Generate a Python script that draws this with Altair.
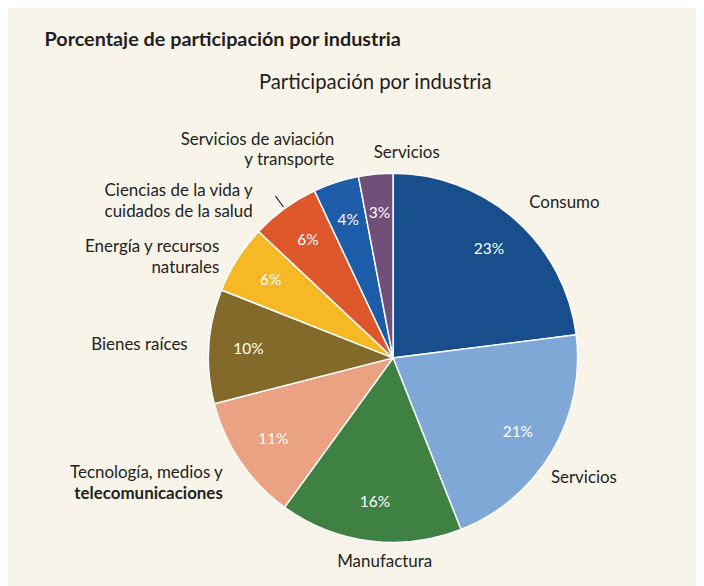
import math
import altair as alt
import pandas as pd

# ---- data ----
order_idx = [0, 1, 2, 3, 4, 5, 6, 7, 8]
labels = [
    "Consumo",
    "Servicios",
    "Manufactura",
    "Tecnología, medios y\n ",
    "Bienes raíces",
    "Energía y recursos\nnaturales",
    "Ciencias de la vida y\ncuidados de la salud",
    "Servicios de aviación\ny transporte",
    "Servicios",
]
bold_lines = ["", "", "", " \ntelecomunicaciones", "", "", "", "", ""]
values = [23, 21, 16, 11, 10, 6, 6, 4, 3]
colors = [
    "#184e8c", "#7fa8d7", "#3f8142", "#eaa282", "#836a2a",
    "#f6b824", "#dd572b", "#1c5ca8", "#704f78",
]

df = pd.DataFrame({"idx": order_idx, "label": labels, "bold": bold_lines, "value": values})

FONT = "Lato"
INK = "#231f20"

src = (
    alt.Chart(df)
    .transform_window(cum="sum(value)", sort=[alt.SortField("idx")])
    .transform_calculate(
        mid="datum.cum - datum.value / 2",
        pct="datum.value + '%'",
    )
)

stacked = src.encode(
    theta=alt.Theta("value:Q", stack=True),
    order=alt.Order("idx:Q"),
)

arcs = stacked.mark_arc(outerRadius=191, stroke="white", strokeWidth=1.5).encode(
    color=alt.Color("idx:N", scale=alt.Scale(domain=order_idx, range=colors), legend=None)
)

pcts = stacked.mark_text(radius=150, fontSize=16, font=FONT, color="white").encode(
    text="pct:N"
)

# outer labels: placed at each slice's mid angle
theta_scale = alt.Scale(domain=[0, sum(values)], range=[0, 2 * math.pi])
mid_theta = alt.Theta("mid:Q", stack=None, scale=theta_scale)
align_expr = {"expr": "(datum.mid < 45 || datum.mid > 97) ? 'left' : (datum.mid < 55 ? 'center' : 'right')"}
label_style = dict(radius=213, fontSize=17.5, font=FONT, color=INK, lineBreak="\n",
                   lineHeight=21, align=align_expr, baseline="middle")

# label groups that are shifted slightly to keep clear of neighbours / slice edges
crowded_a = "datum.mid > 86 && datum.mid < 92"   # label with leader line
shifted = [
    ("datum.mid > 25 && datum.mid < 45", -20, 16),
    ("datum.mid > 45 && datum.mid < 55", 18, 0),
    (crowded_a, -20, 0),
    ("datum.mid > 92 && datum.mid < 97", 5, -23),
]

any_shifted = " || ".join(f"({f})" for f, _, _ in shifted)
label_layers = [
    src.transform_filter(f"!({any_shifted})")
    .mark_text(**label_style)
    .encode(theta=mid_theta, text="label:N")
]
for flt, ddx, ddy in shifted:
    label_layers.append(
        src.transform_filter(flt)
        .mark_text(dx=ddx, dy=ddy, **label_style)
        .encode(theta=mid_theta, text="label:N")
    )

outer_bold = (
    src.transform_filter("datum.bold != ''")
    .mark_text(fontWeight="bold", **label_style)
    .encode(theta=mid_theta, text="bold:N")
)

leader = (
    src.transform_filter(crowded_a)
    .mark_arc(innerRadius=193, outerRadius=207, stroke=INK, strokeWidth=1.2, fillOpacity=0)
    .encode(theta=mid_theta, theta2=alt.Theta2("mid:Q"))
)

pie = alt.layer(arcs, pcts, leader, *label_layers, outer_bold).properties(
    width=617,
    height=440,
    title=alt.TitleParams(
        "Participación por industria", anchor="middle", dx=-18.5, fontSize=21,
        fontWeight="normal", font=FONT, color=INK, offset=40, frame="group",
    ),
)

chart = (
    alt.vconcat(pie)
    .properties(
        title=alt.TitleParams(
            "Porcentaje de participación por industria", anchor="start", dx=-26,
            fontSize=20.5, fontWeight="bold", font=FONT, color=INK, offset=23,
        ),
        background="#f8f4ea",
        padding={"left": 37, "right": 5, "top": 12, "bottom": 8},
    )
    .configure_view(strokeWidth=0)
)

chart.save("out.html", embed_options={"renderer": "svg", "actions": False})
